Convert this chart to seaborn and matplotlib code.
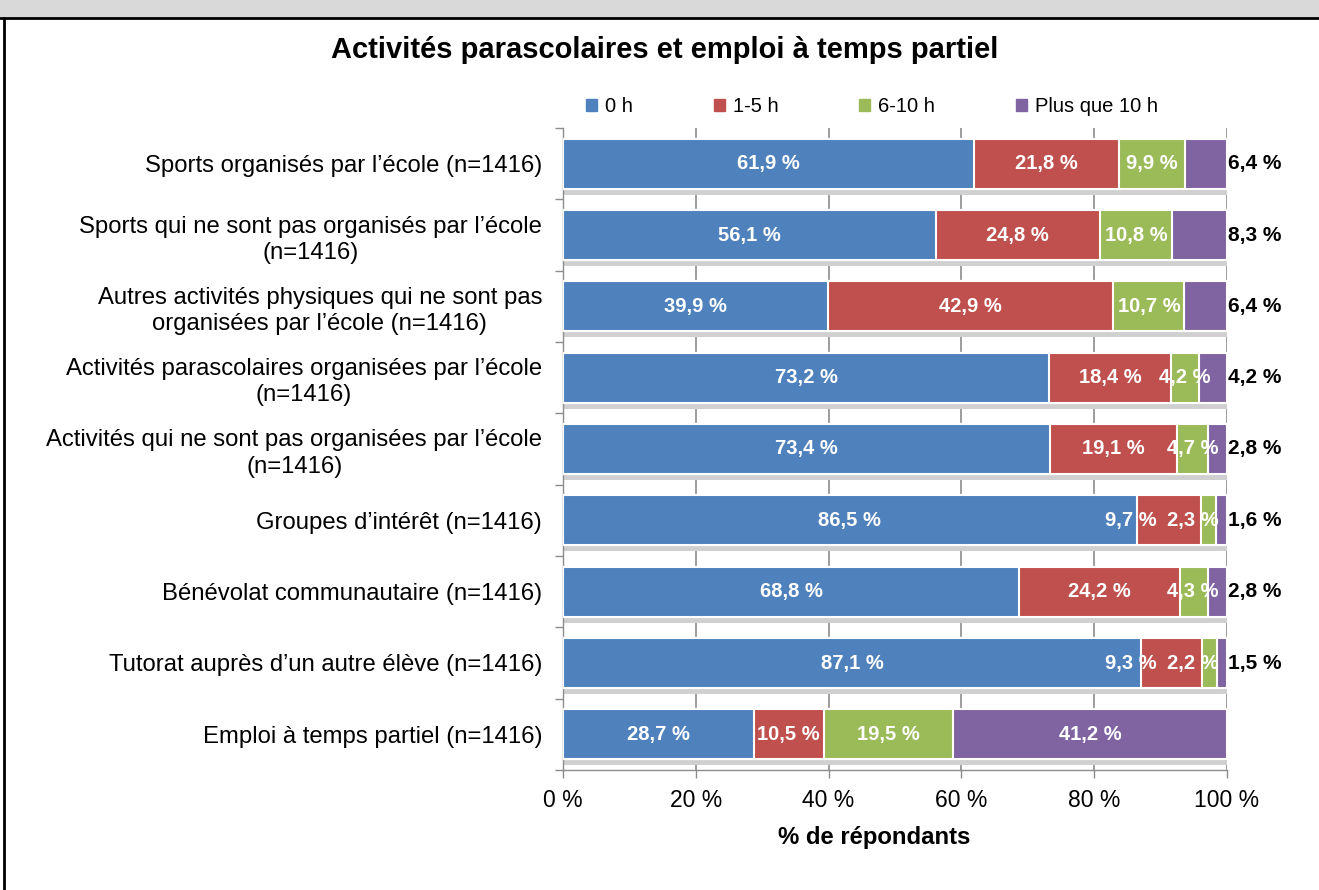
import matplotlib
matplotlib.use("Agg")
import matplotlib.pyplot as plt
from matplotlib.patches import Rectangle
from matplotlib.lines import Line2D
from matplotlib.ticker import FixedLocator
import seaborn as sns
import numpy as np
import pandas as pd

categories = [
    "Sports organisés par l\u2019école (n=1416)",
    "Sports qui ne sont pas organisés par l\u2019école\n(n=1416)",
    "Autres activités physiques qui ne sont pas\norganisées par l\u2019école (n=1416)",
    "Activités parascolaires organisées par l\u2019école\n(n=1416)",
    "Activités qui ne sont pas organisées par l\u2019école\n(n=1416)",
    "Groupes d\u2019intérêt (n=1416)",
    "Bénévolat communautaire (n=1416)",
    "Tutorat auprès d\u2019un autre élève (n=1416)",
    "Emploi à temps partiel (n=1416)",
]
series = ["0 h", "1-5 h", "6-10 h", "Plus que 10 h"]
h0 = [61.9, 56.1, 39.9, 73.2, 73.4, 86.5, 68.8, 87.1, 28.7]
h1_5 = [21.8, 24.8, 42.9, 18.4, 19.1, 9.7, 24.2, 9.3, 10.5]
h6_10 = [9.9, 10.8, 10.7, 4.2, 4.7, 2.3, 4.3, 2.2, 19.5]
h10p = [6.4, 8.3, 6.4, 4.2, 2.8, 1.6, 2.8, 1.5, 41.2]
colors = ["#4F81BD", "#C0504D", "#9BBB59", "#8064A2"]
xticks = [0, 20, 40, 60, 80, 100]

sns.set_theme(style="white")
plt.rcParams["font.family"] = ["Liberation Sans", "DejaVu Sans"]
plt.rcParams["text.color"] = "black"
plt.rcParams["axes.labelcolor"] = "black"

vals = np.array([h0, h1_5, h6_10, h10p])
shares = vals / vals.sum(axis=0) * 100
cums = np.cumsum(shares, axis=0)

fig = plt.figure(figsize=(13.19, 8.90), dpi=100)
ax = fig.add_axes([563 / 1319, 1 - 770 / 890, 664 / 1319, 642 / 890])

# shadow bands under the bars
ypos = np.arange(len(categories))
ax.barh(ypos + 0.39, [100] * len(categories), height=0.09, color="#d0d0d0",
        edgecolor="none", zorder=1)

# stacked bars: draw cumulative totals from the largest down
for i in range(3, -1, -1):
    df = pd.DataFrame({"cat": categories, "val": cums[i]})
    sns.barplot(data=df, x="val", y="cat", orient="h", color=colors[i],
                width=0.7, edgecolor="white", linewidth=1.5, saturation=1,
                ax=ax, zorder=3)

ax.set_xlim(0, 100)
ax.set_ylim(len(categories) - 0.5, -0.5)

# value labels
labels = []
for r in range(len(categories)):
    row = []
    for i in range(4):
        v = vals[i, r]
        txt = f"{v:.1f} %".replace(".", ",")
        left = cums[i, r] - shares[i, r]
        if i == 3 and shares[i, r] < 10:
            t = ax.text(100.2, r, txt, ha="left", va="center", color="black",
                        fontsize=15, fontweight="bold", zorder=5)
        else:
            t = ax.text(left + shares[i, r] / 2, r, txt, ha="center", va="center",
                        color="white", fontsize=14.5, fontweight="bold", zorder=5)
        row.append(t)
    labels.append(row)

# push crowded labels to the left so they sit side by side
fig.canvas.draw()
renderer = fig.canvas.get_renderer()
px_per_unit = ax.transData.transform((1, 0))[0] - ax.transData.transform((0, 0))[0]
for row in labels:
    for i in range(2, -1, -1):
        cur = row[i].get_window_extent(renderer)
        nxt = row[i + 1].get_window_extent(renderer)
        overlap = cur.x1 + 10 - nxt.x0
        if overlap > 0:
            x, y = row[i].get_position()
            row[i].set_position((x - overlap / px_per_unit, y))

ax.set_xticks(xticks)
ax.set_xticklabels([f"{t} %" for t in xticks], fontsize=16.5)
ax.xaxis.grid(True, color="#8c8c8c", linewidth=1.2)
ax.set_axisbelow(True)
for line in ax.get_xgridlines():
    line.set_zorder(0.5)
ax.tick_params(axis="x", which="major", direction="out", length=6, width=1,
               color="#8c8c8c", labelcolor="black", bottom=True, pad=8)
ax.set_yticks(ypos)
ax.set_yticklabels(categories, fontsize=17.2, multialignment="center",
                   linespacing=1.25)
ax.tick_params(axis="y", which="major", length=0, pad=15, labelcolor="black")
ax.yaxis.set_minor_locator(FixedLocator(np.arange(-0.5, len(categories), 1)))
ax.tick_params(axis="y", which="minor", direction="out", length=6, width=1,
               color="#8c8c8c", left=True)
ax.set_xlabel("% de répondants", fontsize=17.2, fontweight="bold")
ax.xaxis.set_label_coords((874 - 563) / 664, -(826 - 770) / 642)
ax.set_ylabel("")
for s in ["top", "right"]:
    ax.spines[s].set_visible(False)
for s in ["left", "bottom"]:
    ax.spines[s].set_color("#8c8c8c")
    ax.spines[s].set_linewidth(1)

fig.text(665 / 1319, 1 - 50 / 890, "Activités parascolaires et emploi à temps partiel",
         ha="center", va="center", fontsize=21, fontweight="bold")

handles = [Rectangle((0, 0), 1, 1, color=c) for c in colors]
fig.legend(handles, series, loc="center left", ncol=4,
           bbox_to_anchor=(568 / 1319, 1 - 107 / 890), frameon=False,
           fontsize=14.5, handlelength=0.55, handleheight=0.55, handletextpad=0.4,
           columnspacing=4.0)

# page frame
fig.patches.append(Rectangle((0, 1 - 17 / 890), 1, 17 / 890, transform=fig.transFigure,
                             color="#d9d9d9", zorder=0))
fig.lines.append(Line2D([0, 1], [1 - 18 / 890] * 2, transform=fig.transFigure,
                        color="black", linewidth=2))
fig.lines.append(Line2D([4 / 1319] * 2, [0, 1 - 18 / 890], transform=fig.transFigure,
                        color="black", linewidth=2))

fig.savefig("out.png", dpi=100)
